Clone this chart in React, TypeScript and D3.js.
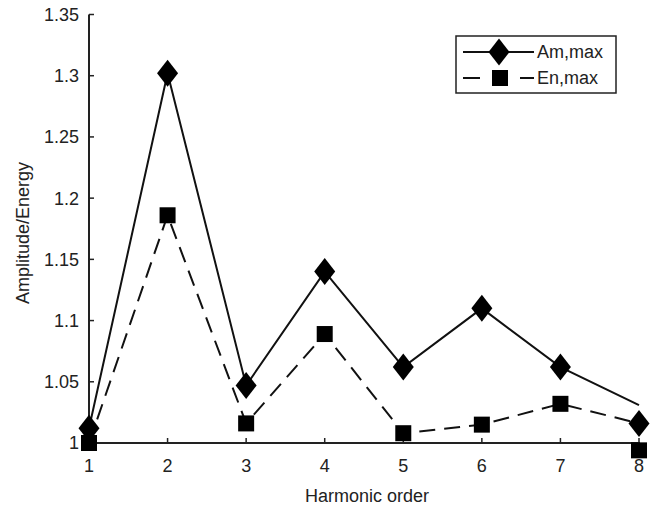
import React from "react";
import * as d3 from "d3";

const harmonics = [1, 2, 3, 4, 5, 6, 7, 8];
const amLine = [1.012, 1.302, 1.047, 1.14, 1.062, 1.11, 1.062, 1.031];
const enLine = [1.0, 1.186, 1.016, 1.089, 1.008, 1.015, 1.032, 1.016];
const amMarkers = [1.012, 1.302, 1.047, 1.14, 1.062, 1.11, 1.062, 1.016];
const enMarkers = [1.0, 1.186, 1.016, 1.089, 1.008, 1.015, 1.032, 0.994];
const yTicks = [1, 1.05, 1.1, 1.15, 1.2, 1.25, 1.3, 1.35];
const yTickLabels = ["1", "1.05", "1.1", "1.15", "1.2", "1.25", "1.3", "1.35"];
const seriesNames = ["Am,max", "En,max"];

const W = 651, H = 509;
const FONT = "'Liberation Sans', Arial, sans-serif";
const FS = 18;

export default function App() {
  const x = d3.scaleLinear().domain([1, 8]).range([89, 639]);
  const y = d3.scaleLinear().domain([1, 1.35]).range([443, 14.5]);
  const line = d3.line<number>().x((_, i) => x(harmonics[i])).y((d) => y(d));
  const diamond = (cx: number, cy: number) =>
    `M${cx},${cy - 13.5}L${cx + 10.5},${cy}L${cx},${cy + 13.5}L${cx - 10.5},${cy}Z`;
  const sq = 16;
  return (
    <svg width={W} height={H} style={{ position: "absolute", left: 0, top: 0 }} fontFamily={FONT}>
      <rect width={W} height={H} fill="#fff" />
      {/* y axis */}
      <line x1={89} x2={89} y1={y(1.35)} y2={y(1)} stroke="#222" strokeWidth={2} />
      {yTicks.map((t, i) => (
        <g key={i}>
          <line x1={89} x2={94} y1={y(t)} y2={y(t)} stroke="#222" strokeWidth={1.5} />
          <text x={79} y={y(t)} dy="0.36em" textAnchor="end" fontSize={FS} fill="#222">
            {yTickLabels[i]}
          </text>
        </g>
      ))}
      {/* x axis */}
      <line x1={89} x2={640} y1={y(1)} y2={y(1)} stroke="#222" strokeWidth={2} />
      {harmonics.map((h) => (
        <g key={h}>
          <line x1={x(h)} x2={x(h)} y1={y(1)} y2={y(1) - 5} stroke="#222" strokeWidth={1.5} />
          <text x={x(h)} y={472} textAnchor="middle" fontSize={FS} fill="#222">
            {h}
          </text>
        </g>
      ))}
      <text transform={`translate(29,233) rotate(-90)`} textAnchor="middle" fontSize={FS} fill="#222">
        Amplitude/Energy
      </text>
      <text x={367} y={502} textAnchor="middle" fontSize={FS} fill="#222">
        Harmonic order
      </text>
      {/* lines */}
      <path d={line(amLine) || ""} fill="none" stroke="#111" strokeWidth={2} />
      <path d={line(enLine) || ""} fill="none" stroke="#111" strokeWidth={2} strokeDasharray="16 9" />
      {/* markers */}
      {enMarkers.map((v, i) => (
        <rect key={"s" + i} x={x(harmonics[i]) - sq / 2} y={y(v) - sq / 2} width={sq} height={sq} fill="#000" />
      ))}
      {amMarkers.map((v, i) => (
        <path key={"d" + i} d={diamond(x(harmonics[i]), y(v))} fill="#000" />
      ))}
      {/* legend */}
      <rect x={456} y={36} width={160} height={57} fill="#fff" stroke="#222" strokeWidth={1.5} />
      <line x1={463} x2={534} y1={52} y2={52} stroke="#111" strokeWidth={2} />
      <path d={diamond(499, 52)} fill="#000" />
      <text x={537} y={52} dy="0.36em" fontSize={FS} fill="#222">{seriesNames[0]}</text>
      <line x1={463} x2={534} y1={78} y2={78} stroke="#111" strokeWidth={2} strokeDasharray="17 40 14 100" />
      <rect x={500 - 8} y={78 - 8} width={16} height={16} fill="#000" />
      <text x={537} y={78} dy="0.36em" fontSize={FS} fill="#222">{seriesNames[1]}</text>
    </svg>
  );
}
